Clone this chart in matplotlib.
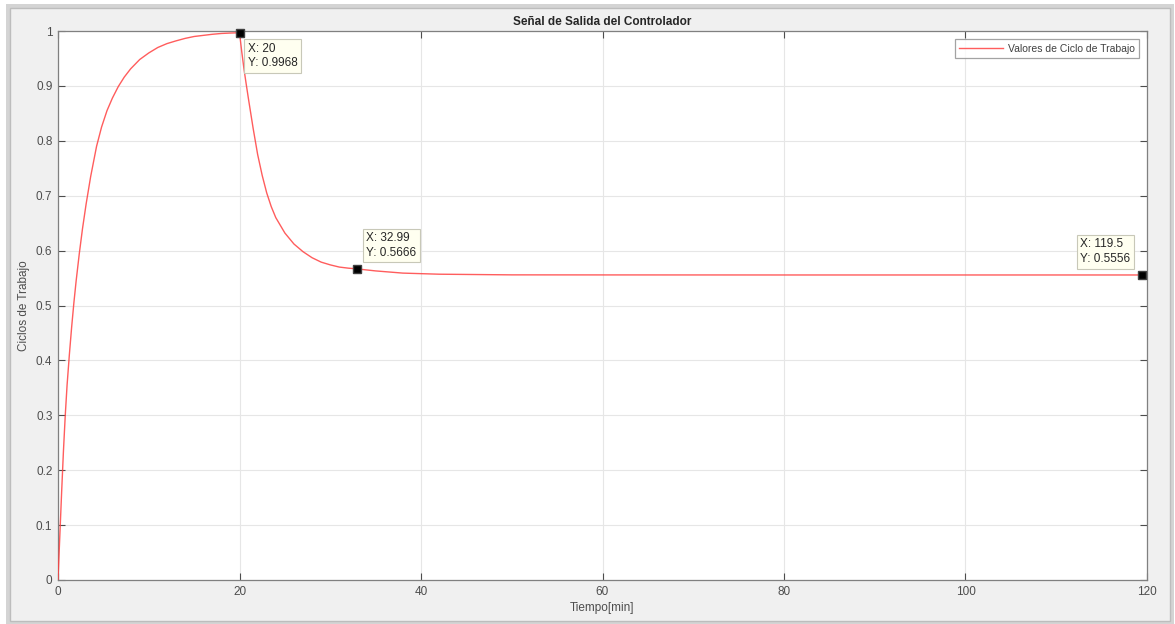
import matplotlib.pyplot as plt
from matplotlib.patches import Rectangle

plt.rcParams["font.family"] = ["Liberation Sans", "DejaVu Sans"]

# controller output: rise to saturation, drop after t=20 and settle
tiempo = [0.0, 0.2, 0.4, 0.6, 0.8, 1.0, 1.25, 1.5, 1.75, 2.0, 2.35, 2.7,
          3.1, 3.6, 4.25, 4.8, 5.4, 6.0, 6.65, 7.3, 8.0, 9.0, 10.0, 11.0,
          12.0, 13.0, 14.0, 15.0, 16.0, 17.0, 18.0, 19.0, 20.0,
          20.25, 20.5, 20.75, 21.0, 21.5, 22.0, 22.5, 23.0, 23.5, 24.0,
          25.0, 26.0, 27.0, 28.0, 29.0, 30.0, 31.0, 32.0, 32.99, 35.0,
          38.0, 42.0, 50.0, 60.0, 80.0, 100.0, 119.5, 120.0]
ciclo = [0.0, 0.08, 0.16, 0.235, 0.3, 0.355, 0.41, 0.46, 0.505, 0.545,
         0.595, 0.64, 0.685, 0.735, 0.79, 0.825, 0.855, 0.878, 0.899, 0.916,
         0.931, 0.948, 0.96, 0.97, 0.977, 0.982, 0.9865, 0.99, 0.992, 0.994,
         0.9955, 0.9963, 0.9968,
         0.962, 0.93, 0.902, 0.875, 0.823, 0.775, 0.737, 0.705, 0.68, 0.66,
         0.632, 0.612, 0.598, 0.587, 0.579, 0.574, 0.570, 0.568, 0.5666,
         0.563, 0.559, 0.557, 0.5558, 0.5557, 0.5556, 0.5556, 0.5556, 0.5556]

# data tips: (x, y, offset in pixels, alignment)
tips = [
    (20.0, 0.9968, (8, -10), "left", "top"),
    (32.99, 0.5666, (9, 10), "left", "bottom"),
    (119.5, 0.5556, (-12, 10), "right", "bottom"),
]

fig = plt.figure(figsize=(11.75, 6.24), dpi=100, facecolor="white")
W, H = 1175.0, 624.0

# window frame with a soft shadow
fig.patches.append(Rectangle((6 / W, 0.0), 1168 / W, 1 - 4 / H,
                             transform=fig.transFigure, facecolor="#d4d4d4",
                             edgecolor="none", zorder=-3))
fig.patches.append(Rectangle((10 / W, 3 / H), 1160 / W, 613 / H,
                             transform=fig.transFigure, facecolor="#f0f0f0",
                             edgecolor="#bdbdbd", lw=1.0, zorder=-2))

ax = fig.add_axes([58 / W, 1 - 580 / H, (1147 - 58) / W, (580 - 31) / H])
ax.set_facecolor("white")

ax.plot(tiempo, ciclo, color="#ff4040", lw=1.0, alpha=0.85,
        label="Valores de Ciclo de Trabajo", zorder=3)

ax.set_xlim(0, 120)
ax.set_ylim(0, 1)
ax.set_xticks(range(0, 121, 20))
ax.set_yticks([i / 10 for i in range(11)])
ax.set_yticklabels(["0"] + [f"{i / 10:g}" for i in range(1, 10)] + ["1"])

axcol = "#262626"
ax.tick_params(direction="in", length=5, width=0.8, colors="#4d4d4d",
               labelsize=8.5, top=True, right=True, pad=4)
for s in ax.spines.values():
    s.set_color("#808080")
    s.set_linewidth(0.9)
ax.grid(True, color="#e6e6e6", lw=0.8)
ax.set_axisbelow(True)

ax.set_title("Señal de Salida del Controlador", fontsize=8.5,
             fontweight="bold", color=axcol, pad=4)
ax.set_xlabel("Tiempo[min]", fontsize=8.5, color="#4d4d4d", labelpad=3)
ax.set_ylabel("Ciclos de Trabajo", fontsize=8.5, color="#4d4d4d", labelpad=4)

leg = ax.legend(loc="upper right", fontsize=7.5, frameon=True, fancybox=False,
                handlelength=4.3, borderaxespad=0.8, borderpad=0.4,
                handletextpad=0.4)
leg.get_frame().set_edgecolor("#8c8c8c")
leg.get_frame().set_linewidth(0.9)
for t in leg.get_texts():
    t.set_color("#404040")

for x, y, off, ha, va in tips:
    ax.plot([x], [y], marker="s", ms=6, color="black", mec="#404040",
            zorder=5, clip_on=False)
    ax.annotate(f"X: {x:g}\nY: {y:.4f}", xy=(x, y), xytext=off,
                textcoords="offset pixels", ha=ha, va=va, fontsize=8.5,
                multialignment="left", color="#262626", linespacing=1.3,
                zorder=6,
                bbox=dict(boxstyle="square,pad=0.3", fc="#fffff0",
                          ec="#c8c8b8", lw=0.8))

fig.savefig("out.png", dpi=100, facecolor=fig.get_facecolor())
